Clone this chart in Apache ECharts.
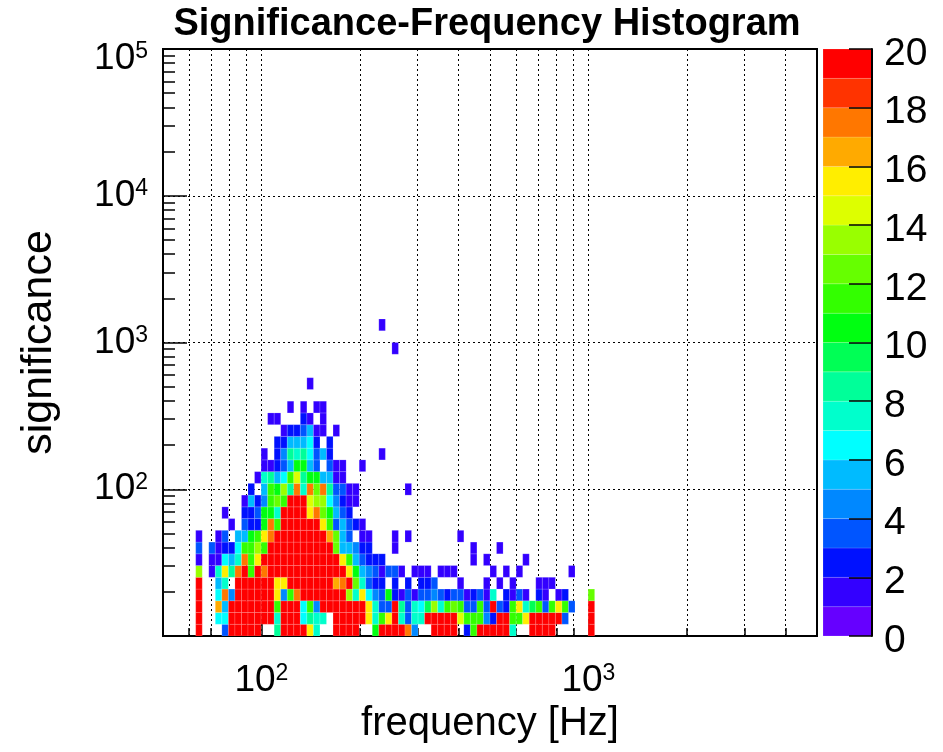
<!DOCTYPE html>
<html>
<head>
<meta charset="utf-8">
<script src="https://cdn.jsdelivr.net/npm/echarts@6/dist/echarts.min.js"></script>
<style>
html,body{margin:0;padding:0;background:#ffffff;}
#chart{width:943px;height:752px;}
</style>
</head>
<body>
<div id="chart"></div>
<script>
// ---- Histogram binning (100 log bins in frequency 50..5000 Hz, 50 log bins in significance 10..1e5)
const xMin = 50, xMax = 5000, nXBins = 100;
const yMin = 10, yMax = 100000, nYBins = 50;

// ---- Tick values
const xMajorTicks = [100, 1000];
const xMinorTicks = [60, 70, 80, 90, 100, 200, 300, 400, 500, 600, 700, 800, 900, 1000, 2000, 3000, 4000];
const yMajorTicks = [10, 100, 1000, 10000, 100000];
const yLabelTicks = [100, 1000, 10000, 100000];
const yMinorTicks = [20, 30, 40, 50, 60, 70, 80, 90, 200, 300, 400, 500, 600, 700, 800, 900,
  2000, 3000, 4000, 5000, 6000, 7000, 8000, 9000, 20000, 30000, 40000, 50000, 60000, 70000, 80000, 90000];
const zLevels = [0, 2, 4, 6, 8, 10, 12, 14, 16, 18, 20];

// ---- Bin contents: rowStart[j] = index of first frequency bin listed in row j (significance bin j)
const rowStart = [5, 5, 5, 5, 5, 5, 5, 5, 5, 5, 5, 5, 5, 5, 15, 15, 15, 15, 15, 15, 0, 22, 0, 0, 35, 0, 33];
const rowCounts = [
  [20,0,0,0,3,20,20,20,20,20, 0,0,8,20,20,20,20,15,7,0, 0,20,20,20,20,0,0,10,20,20, 20,20,17,4,0,0,20,20,20,20, 0,2,11,20,20,20,20,20,7,0, 0,20,20,20,20,0,0,0,0,0, 20],
  [20,0,0,6,6,20,20,20,20,20, 20,20,7,20,20,20,6,8,7,7, 0,20,20,20,20,20,15,7,11,15, 20,7,3,7,7,20,20,20,20,20, 14,11,11,11,4,2,20,20,11,11, 15,20,20,20,20,20,3,0,0,0, 20],
  [20,0,0,16,5,20,20,20,20,20, 20,20,11,20,20,20,6,11,4,20, 20,20,20,20,20,20,15,7,3,3, 20,8,3,7,6,9,13,7,11,12, 11,3,3,11,3,20,3,2,11,15, 7,9,11,3,11,15,11,3,0,0, 20],
  [20,0,0,6,17,4,20,20,20,20, 20,20,15,4,11,17,20,20,20,20, 20,20,20,13,7,15,6,4,3,10, 2,1,3,1,3,3,4,3,2,3, 3,1,2,3,1,7,0,2,1,3, 1,0,2,1,0,1,2,0,0,0, 12],
  [20,0,0,5,7,0,20,20,20,20, 20,20,15,15,20,20,20,20,20,20, 20,16,17,20,12,7,3,2,2,0, 2,0,2,0,2,2,3,0,0,0, 1,0,0,0,1,0,1,0,1,0, 0,0,1,1,1],
  [13,0,1,7,15,8,17,20,11,20, 17,20,20,20,20,20,20,20,20,20, 20,20,20,15,10,5,4,3,1,3, 3,1,0,1,1,1,0,1,1,1, 0,0,0,0,0,1,0,1,0,1, 0,0,0,0,0,0,0,1],
  [1,0,1,1,6,5,7,17,11,15, 20,20,20,20,20,20,20,20,20,20, 20,20,15,11,5,3,2,2,2,0, 0,0,0,0,0,0,0,0,0,0, 0,0,1,0,1,0,0,0,0,0, 1],
  [3,0,3,1,2,2,6,11,11,13, 11,20,20,20,20,20,20,20,20,20, 20,12,5,5,4,2,2,0,0,0, 1,0,0,0,0,0,0,0,0,0, 0,0,1,0,0,0,1],
  [1,0,0,1,3,0,5,5,10,11, 15,17,20,20,20,20,20,20,20,20, 16,12,5,3,0,1,1,0,0,0, 1,0,1,0,0,0,0,0,0,0, 1],
  [0,0,0,0,0,1,0,3,2,2, 10,17,11,20,20,20,20,20,20,15, 11,3,5,3,2,1],
  [0,0,0,0,1,0,0,2,2,3, 10,10,7,20,20,20,20,15,17,12, 10,5,3,2],
  [0,0,0,0,0,0,0,1,5,2, 4,11,12,11,20,20,19,14,13,13, 6,4,2,1,1],
  [0,0,0,0,0,0,0,0,2,0, 5,11,10,13,8,17,7,17,12,17, 8,3,3,1,1,0,0,0,0,0, 0,0,1],
  [0,0,0,0,0,0,0,0,0,1, 7,8,5,6,11,14,8,10,10,5, 5,1,1],
  [1,1,2,3,5,10,10,5,3,0, 3,1,1,0,0,1],
  [1,0,2,4,8,7,8,6,3,5, 2,0,0,0,0,0,0,0,1],
  [0,0,2,2,5,5,5,6,2,0, 2],
  [0,0,0,1,2,2,3,5,1,1, 0,1],
  [0,1,1,0,0,0,2,1,0,1],
  [0,0,0,0,1,0,1,0,1,1],
  [],
  [1],
  [],
  [],
  [1],
  [],
  [1]
];

// ---- ROOT-like palette, one colour per unit of bin content (0..20)
const palette = ['#6600ff','#3300ff','#0011ff','#0055ff','#0088ff','#00bbff','#00ffff','#00ffcc',
  '#00ff99','#00ff55','#00ff11','#33ff00','#66ff00','#99ff00','#ddff00','#ffee00','#ffaa00',
  '#ff7700','#ff3300','#ff0000'];

const FONT = "'Liberation Sans', Arial, Helvetica, sans-serif";

function xEdge(k) { return xMin * Math.pow(xMax / xMin, k / nXBins); }
function yEdge(j) { return yMin * Math.pow(yMax / yMin, j / nYBins); }

const cells = [];
rowCounts.forEach(function (row, j) {
  row.forEach(function (c, i) {
    if (c > 0) {
      const k = rowStart[j] + i;
      cells.push([xEdge(k), xEdge(k + 1), yEdge(j), yEdge(j + 1), c]);
    }
  });
});

const barCells = [];
for (let i = 0; i < palette.length; i++) {
  barCells.push([0, 1, i, i + 1, i + 0.5]);
}

function renderRect(params, api) {
  const p0 = api.coord([api.value(0), api.value(2)]);
  const p1 = api.coord([api.value(1), api.value(3)]);
  return {
    type: 'rect',
    shape: { x: p0[0], y: p1[1], width: p1[0] - p0[0], height: p0[1] - p1[1] },
    style: { fill: api.visual('color'), stroke: 'rgba(255,255,255,0.25)', lineWidth: 0.6 }
  };
}

const pieces = palette.map(function (col, i) {
  return i < palette.length - 1 ? { gte: i, lt: i + 1, color: col } : { gte: i, color: col };
});

function powLabel(v) {
  const e = Math.round(Math.log10(v));
  const txt = '{b|10}{s|' + e + '}';
  // the top label sits a little lower, as in the original plot
  return v >= yMax ? '{gap| }\n' + txt : txt;
}
const powRich = {
  b: { fontFamily: FONT, fontSize: 37, lineHeight: 37, padding: [6, 0, 0, 0], color: '#000', verticalAlign: 'bottom' },
  s: { fontFamily: FONT, fontSize: 23, lineHeight: 23, color: '#000', verticalAlign: 'top' },
  gap: { fontSize: 2, lineHeight: 20 }
};

const gridLine = { show: true, lineStyle: { color: '#000', width: 1, type: [2, 3] } };

const chart = echarts.init(document.getElementById('chart'), null, { renderer: 'canvas' });
chart.setOption({
  animation: false,
  backgroundColor: '#ffffff',
  title: {
    text: 'Significance-Frequency Histogram',
    left: 482, top: 1, textAlign: 'center',
    textStyle: { fontFamily: FONT, fontSize: 38, fontWeight: 'bold', color: '#000' }
  },
  grid: [
    { left: 163, top: 49, width: 654, height: 587, show: true, borderColor: '#000', borderWidth: 2, backgroundColor: 'transparent', outerBoundsMode: 'none' },
    { left: 823, top: 49, width: 49, height: 587, show: false, outerBoundsMode: 'none' }
  ],
  xAxis: [
    {
      type: 'log', logBase: 10, min: xMin, max: xMax, gridIndex: 0, position: 'bottom',
      name: 'frequency [Hz]', nameLocation: 'middle', nameGap: 68,
      nameTextStyle: { fontFamily: FONT, fontSize: 40, color: '#000' },
      axisLine: { show: true, onZero: false, lineStyle: { color: '#000', width: 2 } },
      axisTick: { show: true, inside: true, length: 16, customValues: xMajorTicks, lineStyle: { color: '#000', width: 1.5 } },
      axisLabel: { customValues: xMajorTicks, margin: 26, formatter: powLabel, rich: powRich },
      splitLine: { show: false }
    },
    {
      type: 'log', logBase: 10, min: xMin, max: xMax, gridIndex: 0, position: 'bottom',
      axisLine: { show: false, onZero: false },
      axisTick: { show: true, inside: true, length: 8, customValues: xMinorTicks, lineStyle: { color: '#000', width: 1.5 } },
      axisLabel: { show: false },
      splitLine: gridLine
    },
    { type: 'value', min: 0, max: 1, gridIndex: 1, show: false, axisLine: { onZero: false } }
  ],
  yAxis: [
    {
      type: 'log', logBase: 10, min: yMin, max: yMax, gridIndex: 0, position: 'left',
      name: 'significance', nameLocation: 'middle', nameGap: 102, nameRotate: 90,
      nameTextStyle: { fontFamily: FONT, fontSize: 43, color: '#000' },
      axisLine: { show: true, onZero: false, lineStyle: { color: '#000', width: 2 } },
      axisTick: { show: true, inside: true, length: 24, customValues: yMajorTicks, lineStyle: { color: '#000', width: 1.5 } },
      axisLabel: { customValues: yLabelTicks, margin: 15, formatter: powLabel, rich: powRich },
      splitLine: gridLine
    },
    {
      type: 'log', logBase: 10, min: yMin, max: yMax, gridIndex: 0, position: 'left',
      axisLine: { show: false, onZero: false },
      axisTick: { show: true, inside: true, length: 12, customValues: yMinorTicks, lineStyle: { color: '#000', width: 1.5 } },
      axisLabel: { show: false },
      splitLine: { show: false }
    },
    {
      type: 'value', min: 0, max: 20, interval: 2, gridIndex: 1, position: 'right', z: 10,
      axisLine: { show: true, onZero: false, lineStyle: { color: '#000', width: 2 } },
      axisTick: { show: true, inside: true, length: 23, customValues: zLevels, lineStyle: { color: '#000', width: 1.5 } },
      axisLabel: {
        customValues: zLevels, margin: 12,
        formatter: function (v) { return '{n|' + v + '}'; },
        rich: { n: { fontFamily: FONT, fontSize: 39, lineHeight: 39, padding: [10, 0, 0, 0], color: '#000' } }
      },
      splitLine: { show: false }
    }
  ],
  visualMap: {
    type: 'piecewise', show: false, dimension: 4, seriesIndex: [0, 1], pieces: pieces
  },
  series: [
    {
      type: 'custom', xAxisIndex: 0, yAxisIndex: 0, renderItem: renderRect,
      encode: { x: [0, 1], y: [2, 3] }, data: cells, clip: true
    },
    {
      type: 'custom', xAxisIndex: 2, yAxisIndex: 2, renderItem: renderRect,
      encode: { x: [0, 1], y: [2, 3] }, data: barCells
    }
  ]
});
</script>
</body>
</html>
